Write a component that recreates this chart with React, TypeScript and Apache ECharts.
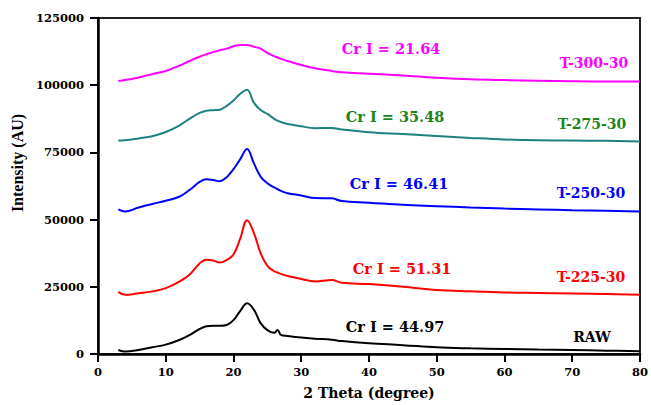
import React, { useEffect, useRef } from "react";
import * as echarts from "echarts";

const theta = [3, 4, 6, 8, 10, 12, 13.5, 15, 16, 17, 18, 19, 20, 21, 22, 23, 24, 25, 26, 26.5, 27, 28, 30, 32, 34.5, 36, 40, 45, 50, 55, 60, 65, 70, 75, 80];

const rawI = [1500, 900, 1500, 2500, 3500, 5200, 7000, 9300, 10300, 10500, 10500, 10800, 12600, 16000, 18900, 16500, 11500, 8900, 7900, 8900, 7100, 6700, 6100, 5700, 5300, 4800, 4000, 3300, 2500, 2100, 1850, 1650, 1500, 1250, 1000];
const t225 = [23100, 22000, 22600, 23300, 24500, 26900, 29500, 33700, 35100, 34800, 34000, 35000, 37000, 43000, 49800, 45100, 37500, 32800, 30800, 30300, 29800, 29000, 27900, 27000, 27500, 26500, 26000, 25000, 23800, 23300, 22900, 22700, 22500, 22300, 22000];
const t250 = [53800, 53000, 54500, 55800, 57000, 58500, 61000, 64000, 65000, 64700, 64300, 65800, 68800, 72500, 76300, 71000, 66000, 63500, 62000, 61300, 60700, 59800, 59000, 58000, 57900, 56900, 56300, 55500, 55000, 54500, 54100, 53800, 53500, 53300, 53000];
const t275 = [79400, 79500, 80200, 81000, 82600, 85000, 87500, 89700, 90500, 90700, 90900, 92300, 94300, 96800, 98300, 93500, 90800, 89300, 87500, 86800, 86300, 85600, 84700, 84000, 84100, 83500, 82500, 81800, 81100, 80400, 79800, 79500, 79400, 79300, 79100];
const t300 = [101600, 101900, 102900, 104100, 105300, 107300, 109000, 110600, 111500, 112300, 113000, 113600, 114500, 115000, 115000, 114300, 113600, 112000, 110800, 110300, 109800, 109000, 107500, 106300, 105300, 104800, 104300, 103600, 102800, 102200, 101900, 101700, 101500, 101400, 101400];

const seriesNames = ["RAW", "T-225-30", "T-250-30", "T-275-30", "T-300-30"];
const crLabels = ["Cr I = 44.97", "Cr I = 51.31", "Cr I = 46.41", "Cr I = 35.48", "Cr I = 21.64"];

const FONT = "DejaVu Serif";

export default function App() {
  const ref = useRef<HTMLDivElement>(null);
  useEffect(() => {
    if (!ref.current) return;
    const chart = echarts.init(ref.current, null, { renderer: "svg" });
    const pairs = (ys: number[]) => theta.map((t, i) => [t, ys[i]]);
    const lineColors = ["#000000", "#ff0000", "#0000ff", "#1f8080", "#ff00ff"];
    const textColors = ["#000000", "#ff0000", "#0000ff", "#1b851b", "#ff00ff"];
    const allData = [rawI, t225, t250, t275, t300];
    const crPos = [[395, 326], [402, 268], [399, 183], [395, 116], [391, 48]];
    const namePos = [[592, 337], [591, 277], [591, 193], [592, 124], [594, 63]];
    const graphics: any[] = [];
    for (let i = 0; i < 5; i++) {
      graphics.push({
        type: "text",
        x: crPos[i][0],
        y: crPos[i][1],
        style: {
          text: crLabels[i],
          fill: textColors[i],
          font: `bold 14.5px "${FONT}"`,
          align: "center",
          verticalAlign: "middle",
        },
      });
      graphics.push({
        type: "text",
        x: namePos[i][0],
        y: namePos[i][1],
        style: {
          text: seriesNames[i],
          fill: textColors[i],
          font: `bold 14px "${FONT}"`,
          align: "center",
          verticalAlign: "middle",
        },
      });
    }
    graphics.push({
      type: "text",
      x: 17,
      y: 163,
      rotation: Math.PI / 2,
      style: {
        text: "Intensity (AU)",
        fill: "#000",
        font: `bold 16px "Liberation Serif"`,
        align: "center",
        verticalAlign: "middle",
      },
    });
    chart.setOption({
      animation: false,
      backgroundColor: "#fff",
      grid: {
        left: 98,
        right: 8,
        top: 18,
        bottom: 50,
        show: true,
        borderColor: "#222",
        borderWidth: 2,
        backgroundColor: "transparent",
      },
      xAxis: {
        type: "value",
        min: 0,
        max: 80,
        interval: 10,
        name: "2 Theta (degree)",
        nameLocation: "middle",
        nameGap: 32,
        nameTextStyle: { fontFamily: FONT, fontWeight: "bold", fontSize: 14, color: "#000" },
        axisLine: { show: true, onZero: false, lineStyle: { color: "#000", width: 2.5 } },
        axisTick: { show: true, length: 8, lineStyle: { color: "#000", width: 2 } },
        axisLabel: { fontFamily: FONT, fontWeight: "bold", fontSize: 11.5, color: "#000", margin: 12 },
        splitLine: { show: false },
      },
      yAxis: {
        type: "value",
        min: 0,
        max: 125000,
        interval: 25000,
        axisLine: { show: true, lineStyle: { color: "#000", width: 2.5 } },
        axisTick: { show: true, length: 8, lineStyle: { color: "#000", width: 2 } },
        axisLabel: {
          fontFamily: FONT,
          fontWeight: "bold",
          fontSize: 11.5,
          color: "#000",
          margin: 14,
          formatter: (v: number) => String(v),
        },
        splitLine: { show: false },
      },
      graphic: graphics,
      series: allData.map((d, i) => ({
        type: "line",
        name: seriesNames[i],
        data: pairs(d),
        showSymbol: false,
        smooth: 0.4,
        lineStyle: { color: lineColors[i], width: 2 },
        z: 2,
      })),
    });
    return () => chart.dispose();
  }, []);
  return (
    <div
      ref={ref}
      style={{ position: "fixed", left: 0, top: 0, width: 651, height: 405 }}
    />
  );
}
